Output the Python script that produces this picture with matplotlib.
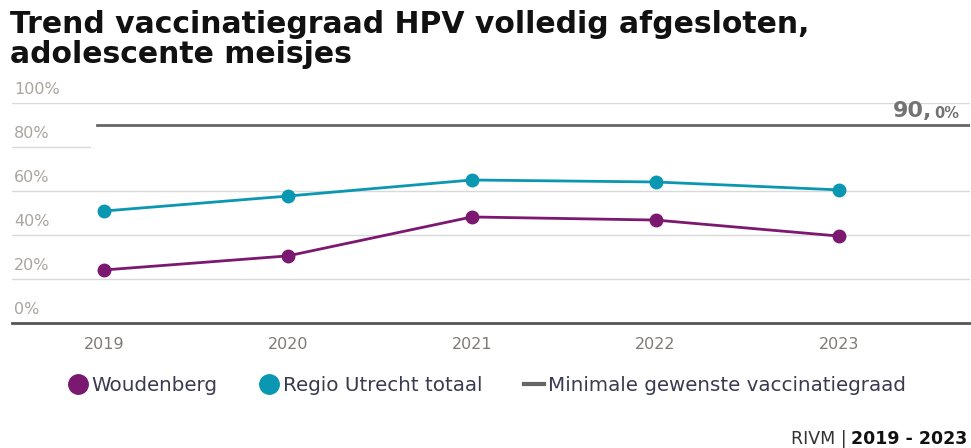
import matplotlib.pyplot as plt
from matplotlib.lines import Line2D

# data
years = [2019, 2020, 2021, 2022, 2023]
woudenberg = [24.1, 30.5, 48.2, 46.8, 39.5]
regio_utrecht = [50.9, 57.7, 65.0, 64.1, 60.5]
target = 90.0
y_ticks = [0, 20, 40, 60, 80, 100]

purple = '#7b1870'
teal = '#0a97b2'
W, H = 971, 448

fig = plt.figure(figsize=(W / 100, H / 100), dpi=100)
ax = fig.add_axes([12 / W, (H - 323) / H, 958 / W, 220 / H])
ax.set_xlim(2018.5, 2023.71)
ax.set_ylim(0, 100)
for s in ax.spines.values():
    s.set_visible(False)
ax.set_yticks([])
ax.set_xticks(years)
ax.set_xticklabels([str(y) for y in years], fontsize=11.5, color='#807a76')
ax.tick_params(axis='x', length=0, pad=10)

# gridlines (80% one is short, the target label sits over it)
for v in y_ticks:
    if v == 0:
        ax.axhline(v, color='#555555', lw=2, zorder=1, clip_on=False)
    elif v == 80:
        ax.axhline(v, xmin=0, xmax=78 / 958, color='#d9d9d9', lw=1, zorder=1)
    else:
        ax.axhline(v, color='#d9d9d9', lw=1, zorder=1)
    ax.text(2 / 958, v + 2.5, f'{v}%', transform=ax.get_yaxis_transform(),
            fontsize=11.5, color='#aaa49e', va='bottom', ha='left')

# target line + label
ax.axhline(target, xmin=85 / 958, xmax=1, color='#666666', lw=2, zorder=2)
ax.text((893 - 12) / 958, target + 1.6, '90,', transform=ax.get_yaxis_transform(),
        fontsize=16, fontweight='bold', color='#737373', ha='left', va='bottom')
ax.text((934 - 12) / 958, target + 1.6, '0%', transform=ax.get_yaxis_transform(),
        fontsize=10.5, fontweight='bold', color='#737373', ha='left', va='bottom')

ax.plot(years, regio_utrecht, color=teal, lw=2, marker='o', ms=9, zorder=3, clip_on=False)
ax.plot(years, woudenberg, color=purple, lw=2, marker='o', ms=9, zorder=3, clip_on=False)

# title, two lines placed by baseline
fig.text(10 / W, 1 - 33 / H, 'Trend vaccinatiegraad HPV volledig afgesloten,',
         fontsize=21.5, fontweight='bold', color='#111111', va='baseline', ha='left')
fig.text(10 / W, 1 - 63 / H, 'adolescente meisjes',
         fontsize=21.5, fontweight='bold', color='#111111', va='baseline', ha='left')

handles = [
    Line2D([], [], color=purple, marker='o', ls='none', ms=14),
    Line2D([], [], color=teal, marker='o', ls='none', ms=14),
    Line2D([], [], color='#666666', lw=3),
]
labels = ['Woudenberg', 'Regio Utrecht totaal', 'Minimale gewenste vaccinatiegraad']
fig.legend(handles, labels, ncol=3, loc='center left', bbox_to_anchor=(50 / W, 1 - 385 / H),
           frameon=False, handlelength=1.0, handletextpad=0.2, columnspacing=2.1,
           prop={'size': 14.3}, labelcolor='#3a3a50')

fig.text(967 / W, 1 - 444 / H, '2019 - 2023', fontsize=12.5, fontweight='bold',
         ha='right', va='baseline', color='#111111')
fig.text(847 / W, 1 - 444 / H, 'RIVM |', fontsize=12.5, ha='right', va='baseline',
         color='#333333')

fig.savefig('out.png', dpi=100)
